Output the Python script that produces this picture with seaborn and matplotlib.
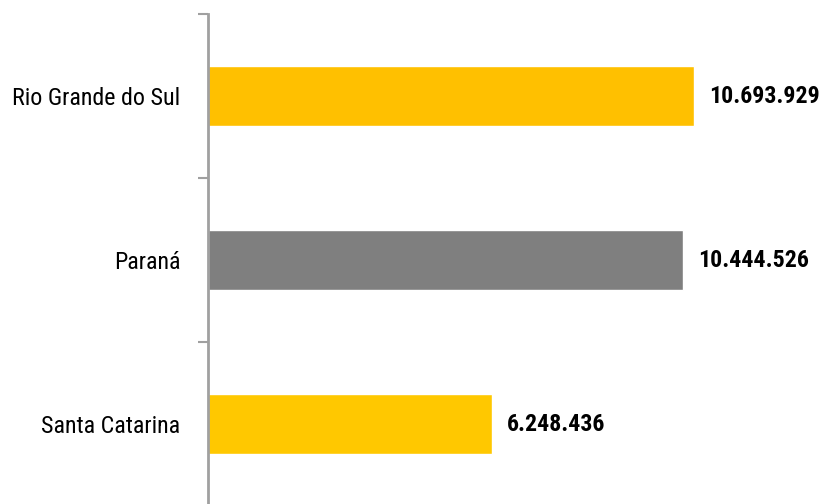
import matplotlib
matplotlib.use("Agg")
import matplotlib.pyplot as plt
import seaborn as sns
import pandas as pd
from matplotlib import font_manager

# Population by state, southern Brazil
states = ["Rio Grande do Sul", "Paraná", "Santa Catarina"]
population = [10693929, 10444526, 6248436]
bar_colors = ["#FFC000", "#7F7F7F", "#FFC800"]
value_labels = ["10.693.929", "10.444.526", "6.248.436"]

sns.set_style("white")
names = {f.name for f in font_manager.fontManager.ttflist}
candidates = ["Roboto Condensed", "Open Sans Condensed", "Liberation Sans Narrow",
              "DejaVu Sans Condensed", "DejaVu Sans"]
family = [f for f in candidates if f in names]
plt.rcParams["font.family"] = family

df = pd.DataFrame({"state": states, "population": population})

fig = plt.figure(figsize=(8.25, 5.04), dpi=100)
renderer = fig.canvas.get_renderer()


def fit_size(text, width_px, weight="normal", base=20):
    """Font size (pt) at which `text` spans roughly width_px pixels."""
    t = fig.text(0, 0, text, fontsize=base, fontweight=weight)
    w = t.get_window_extent(renderer).width
    t.remove()
    return base * width_px / w


label_size = fit_size("Rio Grande do Sul", 168)
value_size = fit_size("10.693.929", 111, weight="bold")

ax = fig.add_axes([208 / 825, -2 / 504, 617 / 825, 492 / 504])

sns.barplot(data=df, y="state", x="population", hue="state",
            palette=bar_colors, orient="h", width=0.37, legend=False,
            saturation=1, ax=ax)

ax.set_xlim(0, 13.575e6)
ax.set_ylim(2.5, -0.5)
ax.set_xlabel("")
ax.set_ylabel("")
ax.set_xticks([])

# Category separators on the left axis
ax.set_yticks([0, 1, 2])
ax.set_yticks([-0.5, 0.5, 1.5, 2.5], minor=True)
ax.tick_params(axis="y", which="major", length=0, pad=20, labelsize=label_size,
               labelcolor="black")
ax.tick_params(axis="y", which="minor", length=7, width=1.5, color="#A0A0A0",
               direction="out", left=True)

for side in ["top", "right", "bottom"]:
    ax.spines[side].set_visible(False)
ax.spines["left"].set_color("#A0A0A0")
ax.spines["left"].set_linewidth(2)

for i, (val, lab) in enumerate(zip(population, value_labels)):
    ax.annotate(lab, xy=(val, i), xytext=(15, 0), textcoords="offset pixels",
                va="center", ha="left", fontsize=value_size, fontweight="bold",
                color="black")

fig.savefig("out.png", dpi=100)
